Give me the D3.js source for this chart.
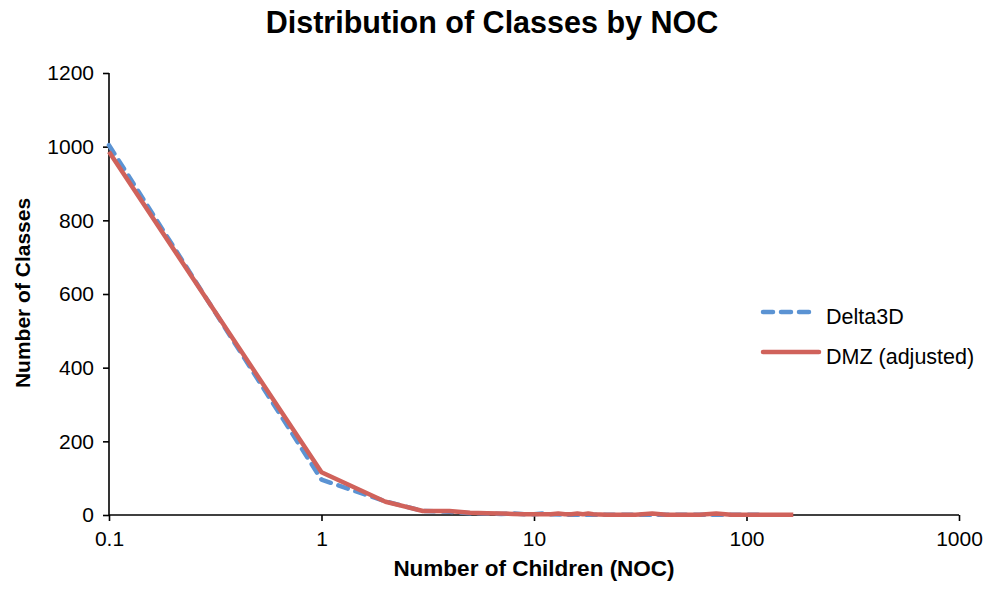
<!DOCTYPE html>
<html><head><meta charset="utf-8">
<script src="https://cdn.jsdelivr.net/npm/d3@7"></script>
<style>body{margin:0;background:#fff}svg{display:block}text{font-family:"Liberation Sans",Arial,sans-serif}</style>
</head><body>
<script>
const title = "Distribution of Classes by NOC";
const xLabel = "Number of Children (NOC)";
const yLabel = "Number of Classes";
const xTicks = [0.1, 1, 10, 100, 1000];
const xTickLabels = ["0.1", "1", "10", "100", "1000"];
const yTicks = [0, 200, 400, 600, 800, 1000, 1200];
const seriesNames = ["Delta3D", "DMZ (adjusted)"];
const delta3dX = [0.1, 1, 2, 3, 4, 5, 6, 7, 8, 9, 10, 11, 12, 14, 16, 20, 25, 30, 40, 50, 70, 100, 120];
const delta3dY = [1004, 96, 37, 11, 9, 5, 4, 3, 4, 2, 2, 4, 2, 1, 1, 1, 1, 1, 1, 1, 1, 1, 1];
const dmzX = [0.1, 1, 2, 3, 4, 5, 6, 7, 8, 9, 10, 11, 12, 13, 14, 15, 16, 17, 18, 19, 22, 30, 36, 42, 60, 72, 85, 120, 166];
const dmzY = [986, 116, 36, 11, 11, 6, 5, 4, 3, 2, 2, 2, 2, 4, 2, 2, 4, 2, 4, 2, 1, 1, 4, 1, 1, 4, 1, 1, 1];
const colors = ["#5B93D3", "#D0625B"];

const W = 987, H = 591;
const svg = d3.select("body").append("svg").attr("width", W).attr("height", H);
const x = d3.scaleLog().domain([0.1, 1000]).range([109, 959]);
const y = d3.scaleLinear().domain([0, 1200]).range([515, 73]);

svg.append("text").attr("x", 492).attr("y", 33).attr("text-anchor", "middle")
  .attr("font-size", 30.5).attr("font-weight", "bold").text(title);

const yAxis = svg.append("g").attr("transform", "translate(109,0)")
  .call(d3.axisLeft(y).tickValues(yTicks).tickSize(6).tickPadding(9).tickFormat(d3.format("d")));
const xAxis = svg.append("g").attr("transform", "translate(0,515)")
  .call(d3.axisBottom(x).tickValues(xTicks).tickSize(6).tickPadding(10).tickFormat((d, i) => xTickLabels[i]));
[yAxis, xAxis].forEach(g => {
  g.select(".domain").attr("stroke", "#000").attr("stroke-width", 1.6);
  g.selectAll(".tick line").attr("stroke", "#000").attr("stroke-width", 1.6);
  g.selectAll("text").attr("font-size", 21).attr("fill", "#000").style("font-family", "'Liberation Sans',Arial,sans-serif");
});
yAxis.select(".domain").attr("d", "M0,515V73");
xAxis.select(".domain").attr("d", "M109,0H959");

svg.append("text").attr("transform", "translate(30,293) rotate(-90)").attr("text-anchor", "middle")
  .attr("font-size", 21).attr("font-weight", "bold").text(yLabel);
svg.append("text").attr("x", 534).attr("y", 576).attr("text-anchor", "middle")
  .attr("font-size", 22.5).attr("font-weight", "bold").text(xLabel);

const line = d3.line().x(d => x(d[0])).y(d => y(d[1]));
const d1 = delta3dX.map((v, i) => [v, delta3dY[i]]);
const d2 = dmzX.map((v, i) => [v, dmzY[i]]);
svg.append("path").datum(d1).attr("d", line).attr("fill", "none").attr("stroke", colors[0])
  .attr("stroke-width", 4.5).attr("stroke-dasharray", "10,8").attr("stroke-linecap", "round").attr("stroke-linejoin", "round");
svg.append("path").datum(d2).attr("d", line).attr("fill", "none").attr("stroke", colors[1])
  .attr("stroke-width", 4.5).attr("stroke-linejoin", "round");

const leg = svg.append("g");
leg.append("line").attr("x1", 763).attr("x2", 816).attr("y1", 312).attr("y2", 312)
  .attr("stroke", colors[0]).attr("stroke-width", 4.5).attr("stroke-dasharray", "10,8").attr("stroke-linecap", "round");
leg.append("line").attr("x1", 763).attr("x2", 819).attr("y1", 352).attr("y2", 352)
  .attr("stroke", colors[1]).attr("stroke-width", 4.5).attr("stroke-linecap", "round");
leg.append("text").attr("x", 826).attr("y", 324).attr("font-size", 21.5).text(seriesNames[0]);
leg.append("text").attr("x", 826).attr("y", 364).attr("font-size", 21.5).text(seriesNames[1]);
</script>
</body></html>
